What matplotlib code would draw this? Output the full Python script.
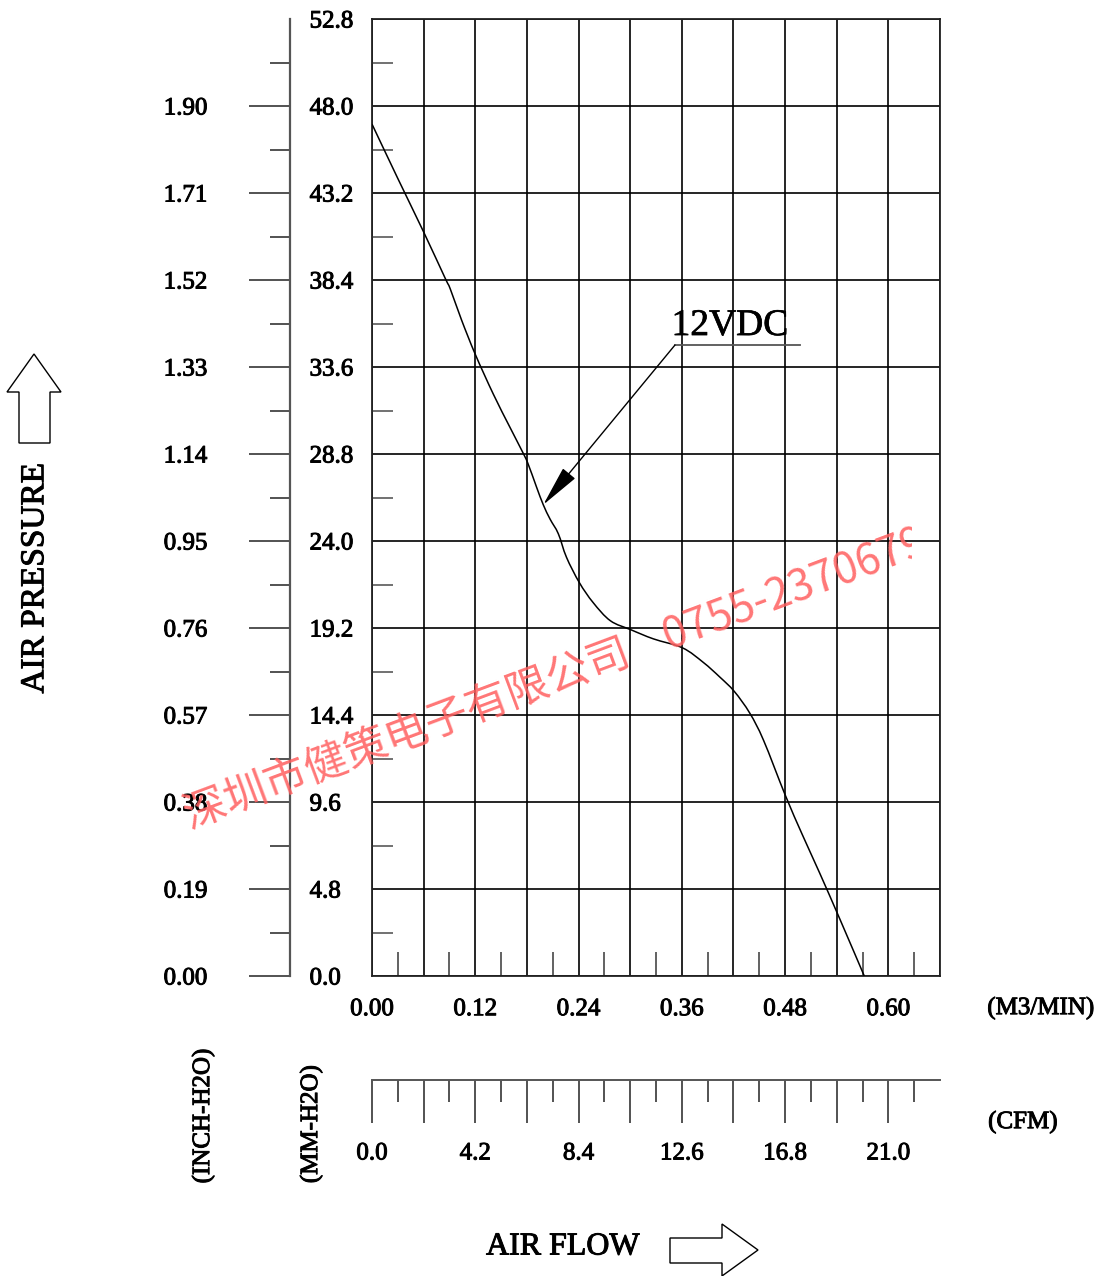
import matplotlib
matplotlib.use('agg')  # no display
import matplotlib.pyplot as plt
import matplotlib.patheffects as pe
import numpy as np
from matplotlib.patches import Polygon, Rectangle, PathPatch
from matplotlib.path import Path

# P-Q curve (flow in m3/min, pressure in mm-H2O)
flow = [0.0, 0.03, 0.06, 0.085, 0.091, 0.104, 0.12, 0.141, 0.160, 0.174,
        0.181, 0.191, 0.199, 0.207, 0.2165, 0.226, 0.241, 0.257, 0.277,
        0.301, 0.327, 0.361, 0.385, 0.404, 0.421, 0.439, 0.455, 0.48,
        0.50, 0.52, 0.544, 0.572]
pressure = [47.0, 44.0, 41.05, 38.5, 37.9, 36.2, 34.3, 32.1, 30.3, 29.0,
            28.3, 27.0, 26.0, 25.2, 24.4, 23.1, 21.7, 20.6, 19.6,
            19.1, 18.6, 18.1, 17.3, 16.5, 15.7, 14.5, 13.0, 10.0,
            7.8, 5.7, 3.1, 0.0]

flow_labels = ['0.00', '', '0.12', '', '0.24', '', '0.36', '', '0.48', '', '0.60', '']
mm_labels = ['0.0', '4.8', '9.6', '14.4', '19.2', '24.0', '28.8', '33.6',
             '38.4', '43.2', '48.0', '52.8']
inch_labels = ['0.00', '0.19', '0.38', '0.57', '0.76', '0.95', '1.14', '1.33',
               '1.52', '1.71', '1.90']
cfm_labels = ['0.0', '', '4.2', '', '8.4', '', '12.6', '', '16.8', '', '21.0']

# marker pointing at the curve
label_point = (0.199, 26.0)
label_text = '12VDC'
watermark = '深圳市健策电子有限公司    0755-23706799'

plt.rcParams['font.family'] = 'Liberation Serif'

W, H = 1102, 1276
PT = 72 / 100  # pixels -> points
heavy = [pe.withStroke(linewidth=0.7, foreground='black')]


def fx(px):
    return px / W


def fy(py):
    return 1 - py / H


def smooth_path(xs, ys):
    # catmull-rom through the read points, drawn as cubic bezier segments
    pts = np.column_stack([xs, ys])
    verts = [pts[0]]
    codes = [Path.MOVETO]
    n = len(pts)
    for i in range(n - 1):
        p0 = pts[max(i - 1, 0)]
        p1 = pts[i]
        p2 = pts[i + 1]
        p3 = pts[min(i + 2, n - 1)]
        verts += [p1 + (p2 - p0) / 6, p2 - (p3 - p1) / 6, p2]
        codes += [Path.CURVE4] * 3
    return Path(verts, codes)


fig = plt.figure(figsize=(W / 100, H / 100), dpi=100)

# main grid
ax = fig.add_axes([fx(372), fy(976), (940 - 372) / W, (976 - 19) / H])
ax.set_xlim(0, 0.66)
ax.set_ylim(0, 52.8)
ax.set_xticks(np.arange(0, 0.67, 0.06))
ax.set_xticklabels(flow_labels)
ax.set_yticks(np.arange(0, 52.81, 4.8))
ax.set_yticklabels([])
ax.set_xticks(np.arange(0.03, 0.66, 0.06), minor=True)
ax.set_yticks(np.arange(2.4, 52.8, 4.8), minor=True)
ax.grid(True, which='major', color='black', lw=1.2)
ax.tick_params(which='major', length=0)
ax.tick_params(axis='x', labelsize=18, pad=16)
ax.tick_params(axis='x', which='minor', direction='in', length=24 * PT,
               width=1.3, color='#555555')
ax.tick_params(axis='y', which='minor', direction='in', length=21 * PT,
               width=1.3, color='#666666')
for s in ax.spines.values():
    s.set_color('#222222')
    s.set_linewidth(1.3)

ax.add_patch(PathPatch(smooth_path(flow, pressure), facecolor='none',
                       edgecolor='black', lw=1.1, zorder=3))

tx, ty = (675 - 372) / 860.6, (976 - 345) / 87 * 4.8
ax.annotate('', xy=label_point, xytext=(tx, ty),
            arrowprops=dict(arrowstyle='-|>,head_length=2.6,head_width=0.5',
                            color='black', lw=1, shrinkA=0, shrinkB=0,
                            mutation_scale=10))
ax.plot([tx, (800 - 372) / 860.6], [ty, ty], color='#555555', lw=1.3)
ax.text(tx - 0.004, ty + 0.55, label_text, fontsize=27, ha='left', va='baseline',
        path_effects=[pe.withStroke(linewidth=0.5, foreground='black')])

# inch axis (labels on the left of the line)
ax_in = fig.add_axes([fx(290), fy(976), 1e-4, (976 - 19) / H])
ax_in.set_ylim(0, 52.8)
ax_in.set_xticks([])
ax_in.set_yticks(np.arange(0, 48.1, 4.8))
ax_in.set_yticklabels(inch_labels)
ax_in.set_yticks(np.arange(2.4, 52.8, 4.8), minor=True)
ax_in.tick_params(axis='y', which='major', length=41 * PT, width=1.3,
                  color='#444444', labelsize=18, pad=30)
ax_in.tick_params(axis='y', which='minor', length=20 * PT, width=1.3,
                  color='#444444')
for k in ['top', 'right', 'bottom']:
    ax_in.spines[k].set_visible(False)
ax_in.spines['left'].set_color('#555555')
ax_in.spines['left'].set_linewidth(1.6)

# mm axis labels (right of the same line)
ax_mm = fig.add_axes([fx(290), fy(976), 1e-4, (976 - 19) / H])
ax_mm.set_ylim(0, 52.8)
ax_mm.set_xticks([])
ax_mm.set_yticks(np.arange(0, 52.81, 4.8))
ax_mm.set_yticklabels(mm_labels)
ax_mm.tick_params(axis='y', left=False, labelleft=False, right=False,
                  labelright=True, length=0, labelsize=18, pad=14)
for s in ax_mm.spines.values():
    s.set_visible(False)
ax_mm.patch.set_visible(False)

# cfm axis
ax_cfm = fig.add_axes([fx(372), fy(1080), (940 - 372) / W, 1e-4])
ax_cfm.set_xlim(0, 23.1)
ax_cfm.set_yticks([])
ax_cfm.set_xticks(np.arange(0, 21.01, 2.1))
ax_cfm.set_xticklabels(cfm_labels)
ax_cfm.set_xticks(np.arange(1.05, 23.1, 2.1), minor=True)
ax_cfm.tick_params(axis='x', which='major', length=43 * PT, width=1.3,
                   color='#444444', labelsize=18, pad=14)
ax_cfm.tick_params(axis='x', which='minor', length=22 * PT, width=1.3,
                   color='#444444')
for k in ['top', 'right', 'left']:
    ax_cfm.spines[k].set_visible(False)
ax_cfm.spines['bottom'].set_color('#555555')
ax_cfm.spines['bottom'].set_linewidth(1.4)

for a in (ax, ax_in, ax_mm, ax_cfm):
    for lab in a.get_xticklabels() + a.get_yticklabels():
        lab.set_path_effects(heavy)

# overlay in pixel coordinates for titles, arrows, watermark
ov = fig.add_axes([0, 0, 1, 1], zorder=5)
ov.set_xlim(0, W)
ov.set_ylim(H, 0)
ov.axis('off')
ov.patch.set_visible(False)

titles = [
    (1041, 1008, '(M3/MIN)', 18, 0),
    (1023, 1122, '(CFM)', 18, 0),
    (203, 1116, '(INCH-H2O)', 18, 90),
    (311, 1124, '(MM-H2O)', 18, 90),
    (35, 578, 'AIR PRESSURE', 24, 90),
    (563, 1247, 'AIR FLOW', 23, 0),
]
for x, y, s, size, rot in titles:
    ov.text(x, y, s, fontsize=size, ha='center', va='center', rotation=rot,
            path_effects=heavy)

up = [(19, 443), (19, 392), (7, 392), (34, 354), (61, 392), (50, 392), (50, 443)]
right = [(670, 1238), (722, 1238), (722, 1224), (758, 1250), (722, 1276),
         (722, 1263), (670, 1263)]
for pts in (up, right):
    ov.add_patch(Polygon(pts, closed=True, facecolor='white',
                         edgecolor='black', lw=1))

wm = ov.text(190, 829, watermark, rotation=20.5, rotation_mode='anchor',
             ha='left', va='baseline', fontsize=31, color='#ff5f5f', alpha=0.85,
             family=['Noto Sans CJK SC', 'DejaVu Sans'])
wm.set_clip_on(True)
wm.set_clip_path(Rectangle((0, 0), 912, H, transform=ov.transData))

fig.savefig('out.png', dpi=100)
plt.close(fig)
